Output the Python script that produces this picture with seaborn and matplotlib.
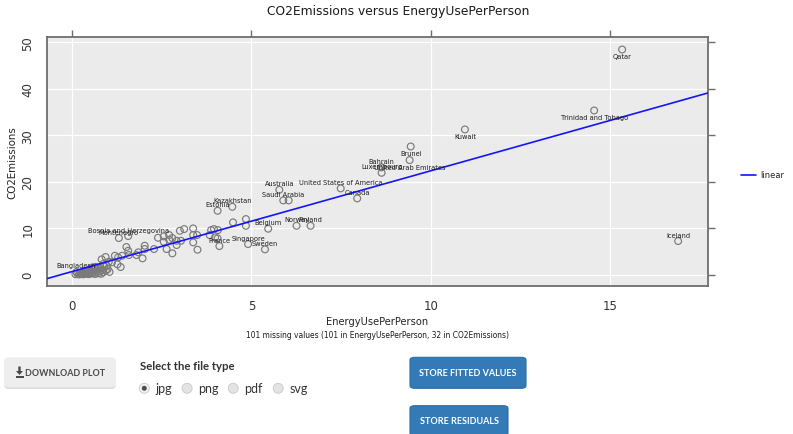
import numpy as np
import pandas as pd
import matplotlib
matplotlib.use("Agg")
import matplotlib.pyplot as plt
from matplotlib.patches import FancyBboxPatch, Ellipse, Polygon, Rectangle
from matplotlib.lines import Line2D
import seaborn as sns

# ---- data -------------------------------------------------------------
labelled_country = [
    "Qatar", "Trinidad and Tobago", "Kuwait", "Brunei", "United Arab Emirates",
    "Bahrain", "Luxembourg", "United States of America", "Canada", "Australia",
    "Saudi Arabia", "Kazakhstan", "Estonia", "Belgium", "Norway", "Finland",
    "Singapore", "Sweden", "France", "Bosnia and Herzegovina", "Montenegro",
    "Bangladesh", "Iceland",
]
labelled_energy = [15.33, 14.55, 10.95, 9.44, 9.41, 8.62, 8.63, 7.49, 7.95, 5.78,
                   5.89, 4.47, 4.06, 5.47, 6.26, 6.65, 4.91, 5.38, 4.11, 1.57,
                   1.31, 0.13, 16.89]
labelled_co2 = [48.47, 35.35, 31.27, 27.60, 24.67, 23.10, 21.94, 18.58, 16.43, 18.28,
                16.00, 14.62, 13.77, 9.90, 10.54, 10.54, 6.60, 5.46, 6.17, 8.32,
                7.90, 0.60, 7.25]
label_side = ["below", "below", "below", "below", "below",
              "above", "above", "above", "above", "above",
              "above", "above", "above", "above", "above", "above",
              "above", "above", "above", "above", "above",
              "above", "above"]

other_energy = [6.04, 4.49, 4.85, 4.85, 3.01, 3.13, 3.38, 3.38, 3.49, 3.38, 3.50,
                3.88, 3.96, 4.07, 3.84, 3.99, 4.06, 2.40, 2.56, 2.71, 2.56, 2.71,
                2.80, 2.92, 3.04, 2.92, 2.64, 2.80, 2.29, 2.03, 2.03, 1.97, 1.85,
                1.80, 1.52, 1.57, 1.59, 1.40, 1.29, 1.20, 1.36, 1.27, 0.94, 0.83,
                1.03, 1.12, 0.97, 0.87, 0.73,
                0.10, 0.15, 0.20, 0.22, 0.25, 0.28, 0.30, 0.32, 0.35, 0.38, 0.40,
                0.42, 0.45, 0.47, 0.50, 0.52, 0.55, 0.58, 0.60, 0.62, 0.65, 0.68,
                0.70, 0.72, 0.75, 0.78, 0.80, 0.82, 0.85, 0.88, 0.90, 0.55, 0.65,
                0.45, 0.35, 1.00, 1.05, 0.95]
other_co2 = [16.00, 11.27, 11.98, 10.54, 9.46, 9.83, 9.97, 8.54, 8.54, 6.96, 5.38,
             9.61, 9.83, 9.61, 8.54, 8.04, 7.83, 7.96, 8.25, 8.54, 7.10, 7.53,
             7.89, 7.31, 7.31, 6.39, 5.53, 4.60, 5.53, 6.24, 5.53, 3.53, 4.82,
             4.24, 5.96, 5.16, 4.24, 4.09, 3.74, 4.09, 1.66, 2.24, 3.81, 3.31,
             2.80, 2.67, 1.94, 2.30, 1.59,
             0.10, 0.25, 0.05, 0.30, 0.15, 0.45, 0.20, 0.08, 0.35, 0.55, 0.18,
             0.70, 0.30, 0.12, 0.45, 0.85, 0.25, 0.60, 1.10, 0.40, 0.15, 0.90,
             0.50, 1.30, 0.30, 0.75, 1.50, 0.20, 1.00, 0.55, 1.80, 1.40, 1.70,
             1.00, 0.80, 1.20, 0.60, 0.90]

# linear fit of CO2Emissions on EnergyUsePerPerson
fit_intercept = 0.67
fit_slope = 2.17

x_ticks = [0, 5, 10, 15]
y_ticks = [0, 10, 20, 30, 40, 50]
x_range = (-0.70, 17.73)
y_range = (-2.36, 51.1)

file_types = ["jpg", "png", "pdf", "svg"]

df = pd.DataFrame({
    "EnergyUsePerPerson": labelled_energy + other_energy,
    "CO2Emissions": labelled_co2 + other_co2,
})

# ---- figure ----------------------------------------------------------
sns.set_style("white")
plt.rcParams["font.family"] = ["DejaVu Sans"]

W, H = 793, 435
fig = plt.figure(figsize=(W / 100, H / 100), dpi=100)
fig.patch.set_facecolor("white")


def fx(px):
    return px / W


def fy(py):
    return 1 - py / H


ax_left, ax_top, ax_right, ax_bottom = 46.7, 38.3, 708.3, 286.7
ax = fig.add_axes([fx(ax_left), fy(ax_bottom), fx(ax_right) - fx(ax_left),
                   fy(ax_top) - fy(ax_bottom)])
ax.set_facecolor("#EBEBEB")
ax.set_xlim(*x_range)
ax.set_ylim(*y_range)
ax.set_xticks(x_ticks)
ax.set_yticks(y_ticks)
ax.grid(True, color="white", linewidth=0.9)
ax.set_axisbelow(True)
for s in ax.spines.values():
    s.set_color("#6E6E6E")
    s.set_linewidth(1.3)
ax.tick_params(axis="both", which="both", direction="out", length=5, width=1,
               color="#6E6E6E", top=True, right=True, labeltop=False,
               labelright=False, labelsize=8.5, labelcolor="#333333")
ax.tick_params(axis="x", pad=4.5)
ax.tick_params(axis="y", pad=4)
for t in ax.get_yticklabels():
    t.set_rotation(90)
    t.set_verticalalignment("center")

sns.scatterplot(data=df, x="EnergyUsePerPerson", y="CO2Emissions", ax=ax,
                marker="o", s=24, facecolor="none", edgecolor="#7A7A7A",
                linewidth=0.85, zorder=3)

line_x = np.array(x_range)
sns.lineplot(x=line_x, y=fit_intercept + fit_slope * line_x, ax=ax,
             color="#1414FF", linewidth=1.2, zorder=4)

for name, xv, yv, side in zip(labelled_country, labelled_energy, labelled_co2, label_side):
    off = -6.5 if side == "below" else 6.5
    ax.annotate(name, (xv, yv), xytext=(0, off * 0.72), textcoords="offset points",
                ha="center", va="center", fontsize=4.8, color="#1E1E1E", zorder=5)

# axis titles at fixed places relative to the panel
ax_w = ax_right - ax_left
ax_h = ax_bottom - ax_top
ax.set_xlabel("EnergyUsePerPerson", fontsize=7.1, color="#222222", va="center")
ax.xaxis.set_label_coords((377.5 - ax_left) / ax_w, (ax_bottom - 322.5) / ax_h)
ax.set_ylabel("CO2Emissions", fontsize=7.4, color="#222222", va="center")
ax.yaxis.set_label_coords((12 - ax_left) / ax_w, 0.5)

fig.text(fx(398), fy(12), "CO2Emissions versus EnergyUsePerPerson", ha="center",
         va="center", fontsize=8.8, color="#1A1A1A")
fig.text(fx(377.5), fy(335.5),
         "101 missing values (101 in EnergyUsePerPerson, 32 in CO2Emissions)",
         ha="center", va="center", fontsize=5.45, color="#1A1A1A")

# legend for the fitted line
leg_line = Line2D([0], [0], color="#1414FF", linewidth=1.2)
fig.legend([leg_line], ["linear"], loc="center left",
           bbox_to_anchor=(fx(733), fy(176)), frameon=False, fontsize=6,
           handlelength=1.8, handletextpad=0.6, labelcolor="#222222")

# ---- controls below the plot ---------------------------------------
def button(x0, y0, x1, y1, face, edge):
    fig.patches.append(FancyBboxPatch(
        (fx(x0), fy(y1)), fx(x1) - fx(x0), fy(y0) - fy(y1),
        boxstyle="round,pad=0,rounding_size=0.006", transform=fig.transFigure,
        facecolor=face, edgecolor=edge, linewidth=0.8, figure=fig))


button(4.5, 359.5, 115.5, 390, "#DCDCDC", "none")
button(4.3, 358.3, 115.7, 388.3, "#EEEEEE", "none")
# download glyph: arrow pointing down onto a bar
icon_col = "#4A4A4A"
fig.patches.append(Polygon(
    [(fx(18.3), fy(367.5)), (fx(20.7), fy(367.5)), (fx(20.7), fy(372)),
     (fx(23), fy(372)), (fx(19.5), fy(376)), (fx(16), fy(372)), (fx(18.3), fy(372))],
    closed=True, transform=fig.transFigure, facecolor=icon_col, edgecolor="none",
    figure=fig))
fig.patches.append(Rectangle((fx(15.5), fy(378.6)), fx(8), 1.6 / H,
                             transform=fig.transFigure, facecolor=icon_col,
                             edgecolor="none", figure=fig))
fig.text(fx(65.5), fy(373.5), "DOWNLOAD PLOT", ha="center", va="center",
         fontsize=6.4, fontweight="bold", color=icon_col, family="Lato")

fig.text(fx(140), fy(366.7), "Select the file type", ha="left", va="center",
         fontsize=8.2, fontweight="bold", color="#333333", family="Lato")

radio_x = [144.3, 187.1, 233.2, 278.2]
for i, (rx, lab) in enumerate(zip(radio_x, file_types)):
    fig.patches.append(Ellipse((fx(rx), fy(389.3)), fx(10), 10 / H,
                               transform=fig.transFigure,
                               facecolor="#F2F2F2" if i == 0 else "#E3E3E3",
                               edgecolor="#C8C8C8", linewidth=0.6, figure=fig))
    if i == 0:
        fig.patches.append(Ellipse((fx(rx), fy(389.3)), fx(5), 5 / H,
                                   transform=fig.transFigure, facecolor="#4D4D4D",
                                   edgecolor="none", figure=fig))
    fig.text(fx(rx + 11), fy(388.8), lab, ha="left", va="center", fontsize=9,
             color="#333333", family="Lato")

button(410, 358.3, 526, 389.3, "#337AB7", "#2E6DA4")
fig.text(fx(468), fy(374), "STORE FITTED VALUES", ha="center", va="center",
         fontsize=6.5, fontweight="bold", color="white", family="Lato")
button(410, 406.7, 508, 437, "#337AB7", "#2E6DA4")
fig.text(fx(459), fy(421.7), "STORE RESIDUALS", ha="center", va="center",
         fontsize=6.5, fontweight="bold", color="white", family="Lato")

fig.savefig("out.png", dpi=100)
